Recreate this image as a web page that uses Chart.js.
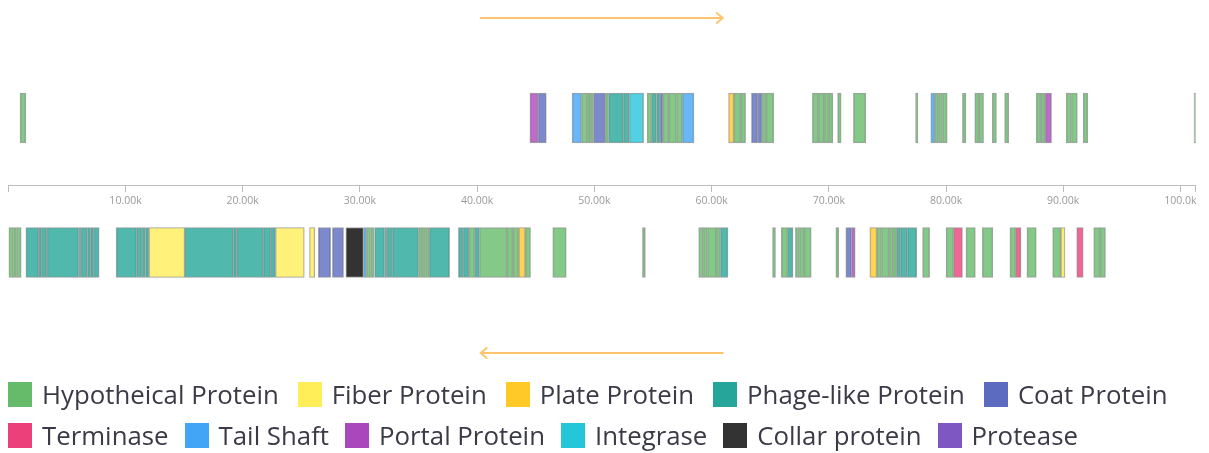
<!DOCTYPE html>
<html>
<head>
<meta charset="utf-8">
<script src="https://cdn.jsdelivr.net/npm/chart.js@4"></script>
<style>
  body { margin: 0; background: #fff; }
  #wrap { position: relative; width: 1209px; height: 453px; overflow: hidden; }
  #chart { position: absolute; left: 0; top: 0; }
  .legend { position: absolute; left: 8px; display: flex; align-items: center;
            font-family: "Open Sans", sans-serif; font-size: 25.8px; color: #3b3b48; white-space: nowrap; }
  .legend .item { display: flex; align-items: center; margin-right: 19px; }
  #row2 .item { margin-right: 16px; }
  .legend .box { width: 24px; height: 25px; margin-right: 10px; }
</style>
</head>
<body>
<div id="wrap">
  <canvas id="chart" width="1209" height="453"></canvas>
  <div class="legend" id="row1" style="top:376px"></div>
  <div class="legend" id="row2" style="top:417px"></div>
</div>
<script>
  // protein categories (legend order) and their colours
  const categories = ['Hypotheical Protein', 'Fiber Protein', 'Plate Protein', 'Phage-like Protein', 'Coat Protein',
    'Terminase', 'Tail Shaft', 'Portal Protein', 'Integrase', 'Collar protein', 'Protease'];
  const colors = ['#66BB6A', '#FFEE58', '#FFCA28', '#26A69A', '#5C6BC0',
    '#EC407A', '#42A5F5', '#AB47BC', '#26C6DA', '#333333', '#7E57C2'];
  const barColors = ['rgba(102,187,106,0.8)', 'rgba(255,238,88,0.8)', 'rgba(255,202,40,0.8)', 'rgba(38,166,154,0.8)',
    'rgba(92,107,192,0.8)', 'rgba(236,64,122,0.8)', 'rgba(66,165,245,0.8)', 'rgba(171,71,188,0.8)',
    'rgba(38,198,218,0.8)', '#333333', 'rgba(126,87,194,0.8)'];

  // genes on the forward strand: [start kb, end kb, category index]
  const fwdGenes = [
    [1.0, 1.5, 0],
    [44.5, 45.2, 7], [45.2, 45.9, 4],
    [48.1, 48.9, 6], [48.9, 49.4, 0], [49.4, 49.65, 0], [49.65, 49.93, 0], [49.93, 50.93, 4], [50.93, 51.2, 0],
    [51.2, 52.5, 3], [52.5, 53.0, 3], [53.0, 54.2, 8],
    [54.5, 54.9, 0], [54.9, 55.3, 3], [55.3, 55.6, 3], [55.6, 55.85, 4], [55.85, 56.35, 0], [56.35, 57.0, 0],
    [57.0, 57.5, 0], [57.5, 58.5, 6],
    [61.45, 61.9, 2], [61.9, 62.5, 0], [62.5, 62.9, 0],
    [63.4, 63.95, 4], [63.95, 64.3, 4], [64.3, 64.65, 0], [64.65, 65.3, 0],
    [68.6, 69.1, 0], [69.1, 69.6, 0], [69.6, 70.0, 0], [70.0, 70.35, 0], [70.75, 71.05, 0], [72.1, 73.15, 0],
    [77.4, 77.6, 0], [78.7, 79.05, 6], [79.05, 79.35, 0], [79.35, 79.7, 0], [79.7, 80.1, 0],
    [81.4, 81.7, 0], [82.45, 82.8, 0], [82.8, 83.2, 0], [83.95, 84.3, 0], [85.0, 85.35, 0],
    [87.7, 88.1, 0], [88.1, 88.45, 0], [88.45, 89.0, 7],
    [90.25, 90.7, 0], [90.7, 91.2, 0], [91.7, 92.1, 0],
    [101.15, 101.3, 0]
  ];

  // genes on the reverse strand
  const revGenes = [
    [0, 0.45, 0], [0.45, 0.7, 0], [0.7, 1.1, 0],
    [1.5, 2.6, 3], [2.6, 2.85, 3], [2.85, 3.3, 3], [3.3, 6.0, 3], [6.0, 6.2, 3], [6.2, 6.75, 3],
    [6.75, 7.0, 3], [7.0, 7.3, 3], [7.3, 7.75, 3],
    [9.2, 10.95, 3], [10.95, 11.4, 3], [11.4, 11.7, 3], [11.7, 12.0, 3], [12.0, 15.05, 1],
    [15.05, 19.2, 3], [19.2, 19.5, 3], [19.5, 21.75, 3], [21.75, 22.4, 3], [22.4, 22.8, 3], [22.8, 25.25, 1],
    [25.7, 26.15, 1], [26.45, 27.5, 4], [27.65, 28.6, 4], [28.8, 30.3, 9],
    [30.3, 30.55, 6], [30.55, 30.9, 0], [30.9, 31.2, 0],
    [31.25, 32.1, 3], [32.1, 32.3, 3], [32.3, 32.75, 3], [32.75, 35.0, 3],
    [35.0, 35.3, 0], [35.3, 35.6, 0], [35.6, 35.9, 0], [35.9, 37.65, 3],
    [38.4, 38.8, 3], [38.8, 39.3, 3], [39.3, 39.8, 0], [39.8, 40.2, 3], [40.2, 42.55, 0],
    [42.55, 43.05, 0], [43.05, 43.55, 0], [43.55, 44.1, 2], [44.1, 44.55, 0],
    [46.45, 47.6, 0], [54.1, 54.35, 0],
    [58.9, 59.3, 0], [59.3, 59.65, 0], [59.65, 60.4, 0], [60.4, 60.75, 0], [60.75, 61.4, 3],
    [65.2, 65.45, 0], [65.95, 66.5, 0], [66.5, 66.95, 3], [67.15, 67.5, 0], [67.5, 67.9, 0], [67.9, 68.5, 0],
    [70.6, 70.85, 0], [71.45, 71.95, 4], [71.95, 72.25, 7],
    [73.5, 74.1, 2], [74.1, 74.5, 0], [74.5, 75.15, 0], [75.15, 75.5, 0], [75.5, 75.8, 0],
    [75.8, 76.1, 3], [76.1, 76.7, 3], [76.7, 77.5, 3],
    [78.0, 78.6, 0], [80.0, 80.65, 0], [80.65, 81.4, 5], [81.7, 82.5, 0], [83.1, 84.0, 0],
    [85.45, 85.95, 0], [85.95, 86.4, 5], [86.9, 87.7, 0],
    [89.1, 89.8, 0], [89.8, 90.15, 1], [91.15, 91.7, 5], [92.6, 93.15, 0], [93.15, 93.6, 0]
  ];

  const genomeLength = 101.3;
  const tickValues = [0, 10, 20, 30, 40, 50, 60, 70, 80, 90, 100, genomeLength];
  const arrowRange = [40.3, 60.95];

  const datasets = categories.map((name, i) => ({
    label: name,
    data: fwdGenes.filter(g => g[2] === i).map(g => ({ x: [g[0], g[1]], y: 'fwd' }))
      .concat(revGenes.filter(g => g[2] === i).map(g => ({ x: [g[0], g[1]], y: 'rev' }))),
    backgroundColor: barColors[i],
    borderColor: '#a4a4a4',
    borderWidth: 1,
    borderSkipped: false,
    barThickness: 50,
    grouped: false
  }));

  // strand direction arrows
  const arrowPlugin = {
    id: 'arrows',
    afterDraw(chart) {
      const ctx = chart.ctx;
      const x = chart.scales.x;
      const a = x.getPixelForValue(arrowRange[0]);
      const b = x.getPixelForValue(arrowRange[1]);
      ctx.save();
      ctx.strokeStyle = '#FFC56E';
      ctx.lineWidth = 2;
      ctx.lineCap = 'round';
      const draw = (y, tip, dir) => {
        ctx.beginPath();
        ctx.moveTo(a, y); ctx.lineTo(b, y);
        ctx.moveTo(tip - dir * 6, y - 5); ctx.lineTo(tip, y); ctx.lineTo(tip - dir * 6, y + 5);
        ctx.stroke();
      };
      draw(18, b, 1);
      draw(353, a, -1);
      ctx.restore();
    }
  };

  new Chart(document.getElementById('chart'), {
    type: 'bar',
    data: { labels: ['fwd', 'rev'], datasets },
    options: {
      indexAxis: 'y',
      responsive: false,
      animation: false,
      layout: { padding: { left: 8.3, right: 13.3, top: 50.75, bottom: 133.25 } },
      plugins: { legend: { display: false }, tooltip: { enabled: true } },
      scales: {
        y: { display: false, type: 'category' },
        x: {
          type: 'linear',
          position: { y: 0.5 },
          min: 0,
          max: genomeLength,
          afterFit: s => { s.height = 0; },
          afterBuildTicks: s => { s.ticks = tickValues.map(v => ({ value: v })); },
          border: { color: '#bdbdbd', width: 1 },
          grid: { drawOnChartArea: false, drawTicks: true, tickLength: 6, color: '#bdbdbd' },
          ticks: {
            autoSkip: false,
            maxRotation: 0,
            padding: 3,
            color: '#9a9a9a',
            font: { family: 'Open Sans', size: 10.5 },
            callback: v => (v === 0 || v === genomeLength) ? '' : v.toPrecision(4) + 'k'
          }
        }
      }
    },
    plugins: [arrowPlugin]
  });

  // legend
  const rows = [[0, 1, 2, 3, 4], [5, 6, 7, 8, 9, 10]];
  rows.forEach((r, ri) => {
    const el = document.getElementById('row' + (ri + 1));
    r.forEach(i => {
      const item = document.createElement('div');
      item.className = 'item';
      item.innerHTML = '<span class="box" style="background:' + colors[i] + '"></span><span>' + categories[i] + '</span>';
      el.appendChild(item);
    });
  });
</script>
</body>
</html>
